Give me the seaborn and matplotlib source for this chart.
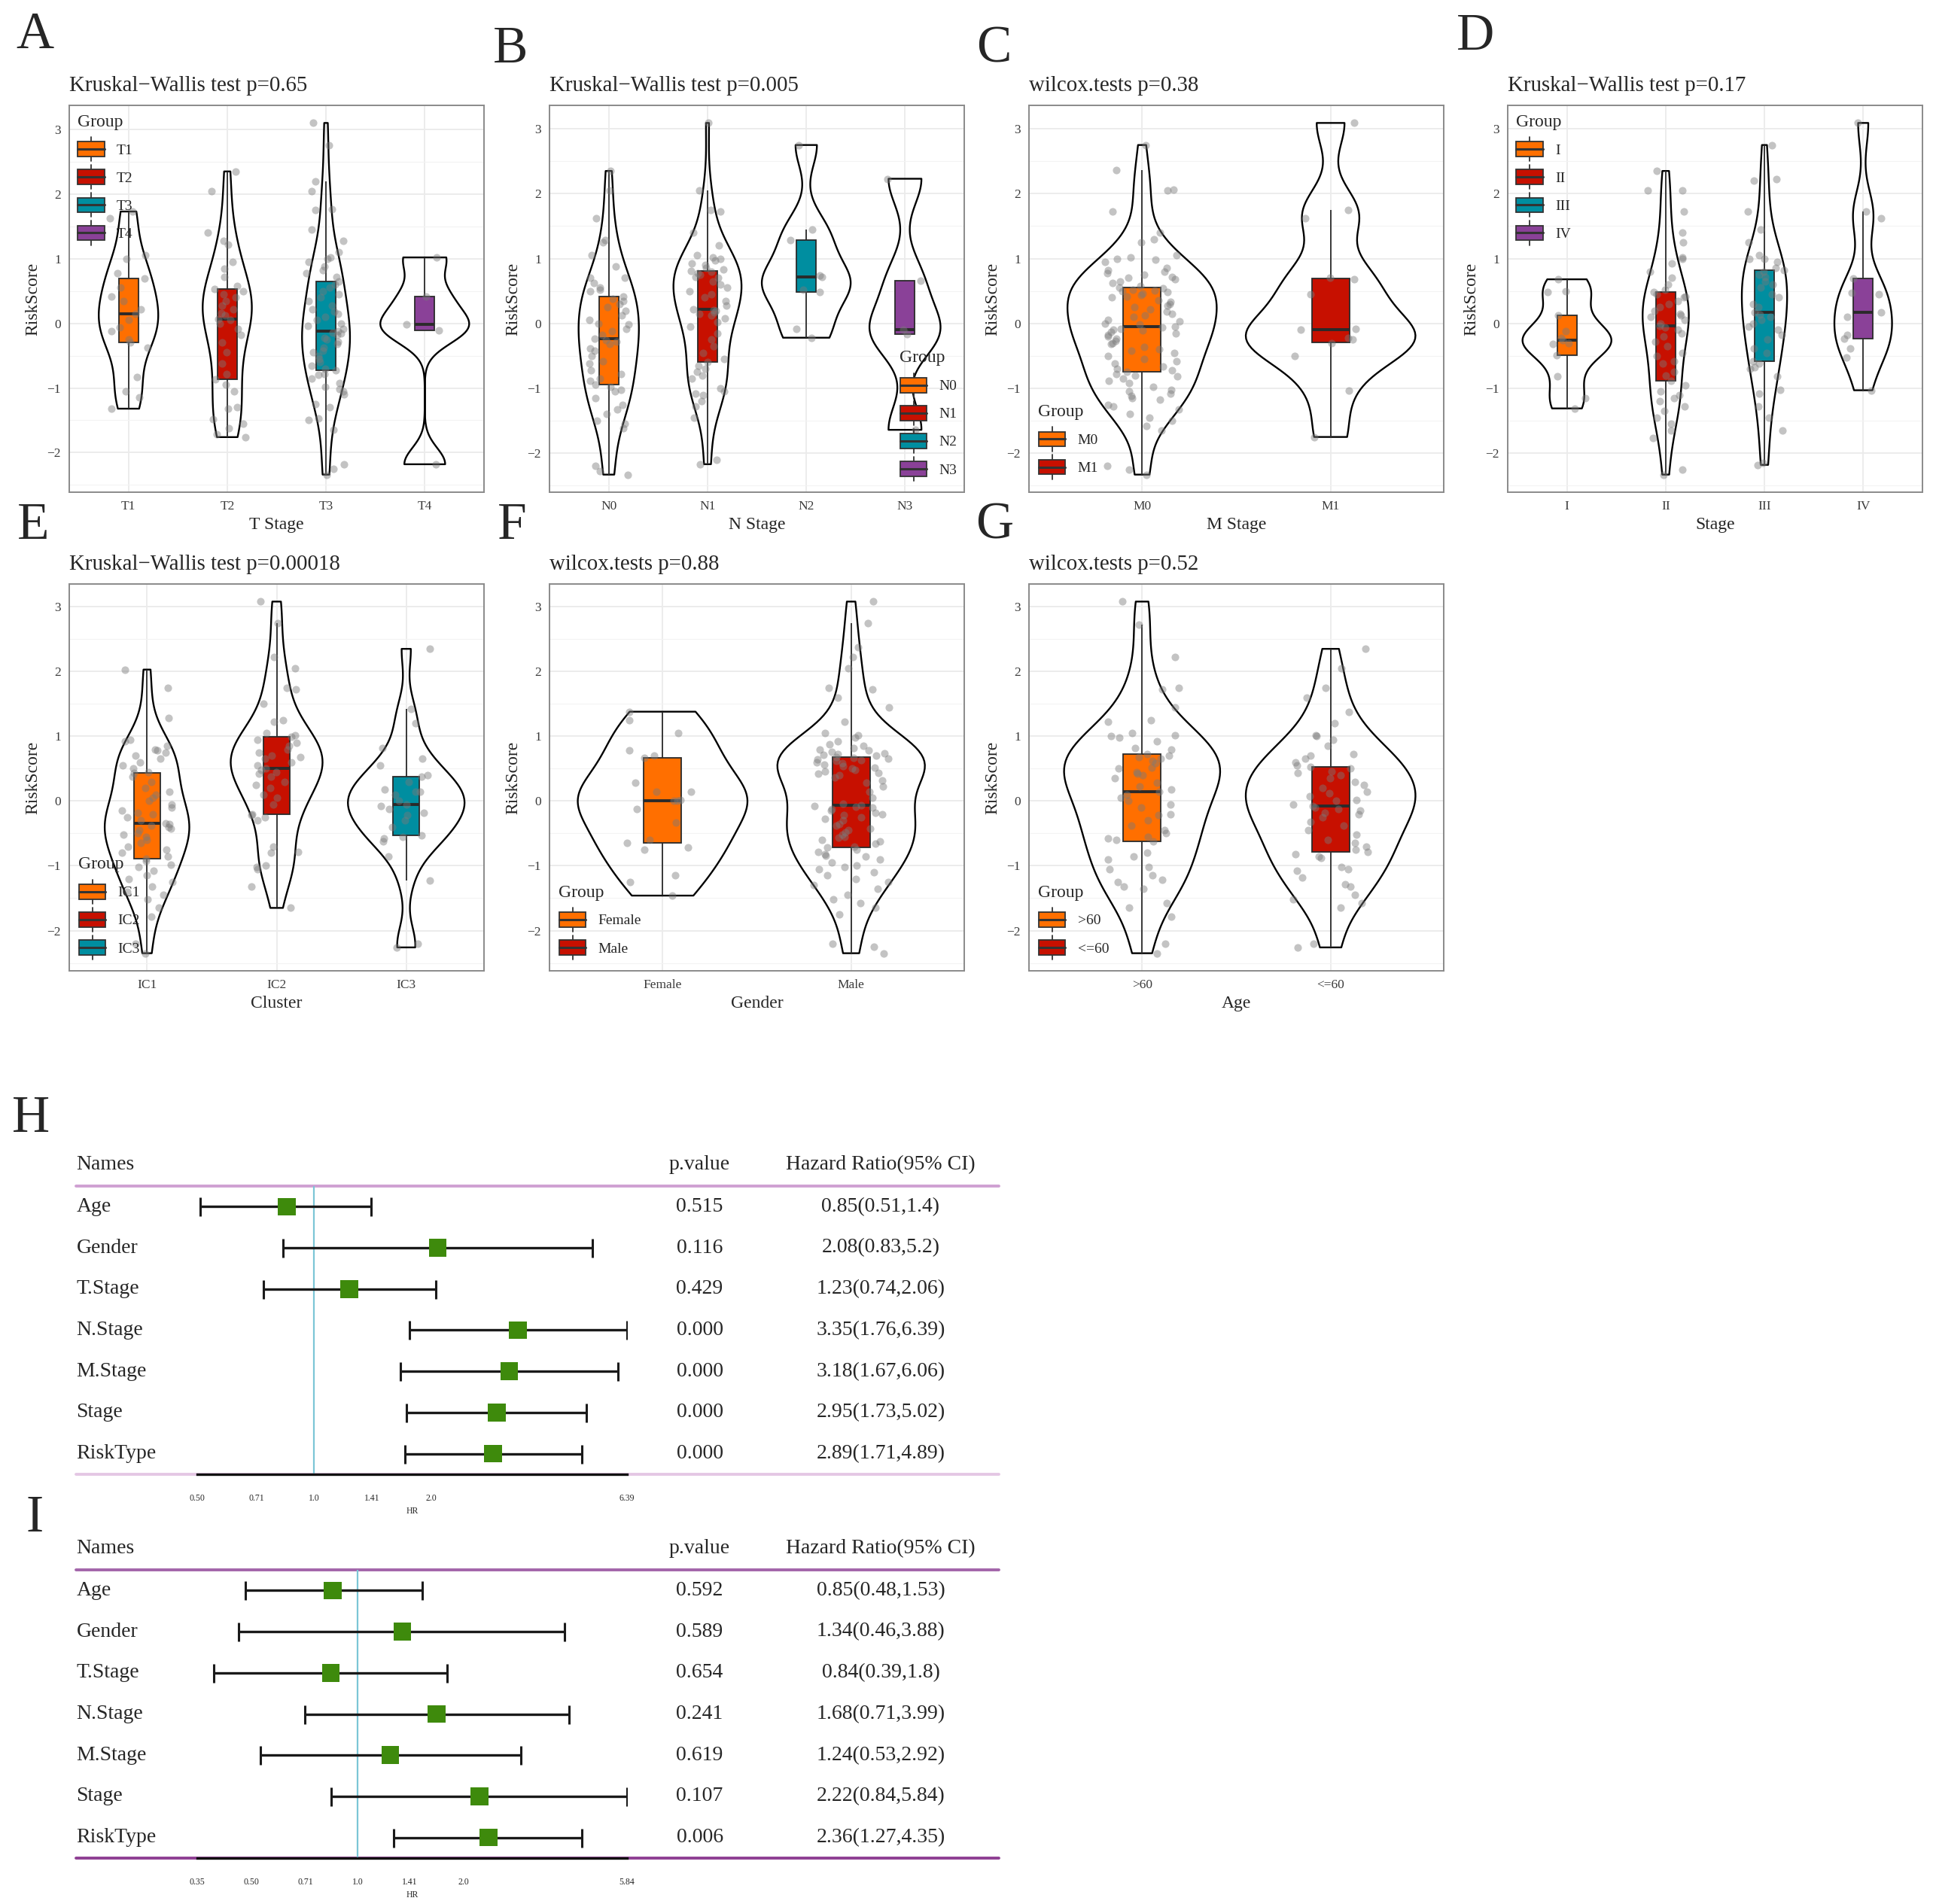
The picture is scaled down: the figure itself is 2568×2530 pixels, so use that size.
import numpy as np
import pandas as pd
import matplotlib
matplotlib.use("Agg")
import matplotlib.pyplot as plt
import seaborn as sns
from matplotlib.patches import Patch, Rectangle
from matplotlib.lines import Line2D
from matplotlib.legend_handler import HandlerBase
import matplotlib.transforms as mtransforms
from matplotlib.ticker import NullLocator, MultipleLocator

# ------------------------------------------------------------------ data
t_cats = ["T1", "T2", "T3", "T4"]
t1 = [-1.32, -1.15, -1.05, -0.83, -0.38, -0.29, -0.25, -0.12, -0.06, 0.05, 0.15, 0.22, 0.35, 0.42,
      0.55, 0.70, 0.78, 1.00, 1.05, 1.62, 1.73]
t2 = [-1.76, -1.72, -1.62, -1.55, -1.48, -1.32, -1.30, -1.05, -0.95, -0.86, -0.78, -0.62, -0.45,
      -0.30, -0.18, -0.08, 0.0, 0.05, 0.07, 0.12, 0.16, 0.22, 0.28, 0.35, 0.40, 0.45, 0.50, 0.53,
      0.58, 0.72, 0.85, 0.95, 1.22, 1.28, 1.40, 2.05, 2.35]
t3 = [-2.34, -2.25, -2.18, -1.65, -1.50, -1.47, -1.30, -1.25, -1.10, -1.05, -1.02, -0.98, -0.92,
      -0.85, -0.80, -0.78, -0.73,
      -0.70, -0.66, -0.60, -0.55, -0.50, -0.45, -0.42, -0.38, -0.32, -0.28, -0.25, -0.22, -0.18,
      -0.16, -0.14, -0.12,
      -0.08, -0.04, 0.0, 0.05, 0.10, 0.15, 0.18, 0.22, 0.28, 0.35, 0.40, 0.45, 0.50, 0.55, 0.60, 0.65,
      0.72, 0.78, 0.82, 0.88, 0.95, 1.00, 1.02, 1.10, 1.28, 1.45, 1.75, 1.76, 2.05, 2.20, 2.75, 3.10]
t4 = [-2.18, -0.11, -0.02, 0.41, 1.02]

n_cats = ["N0", "N1", "N2", "N3"]
n0 = [-2.33, -2.28, -2.20, -1.62, -1.55, -1.50, -1.40, -1.32, -1.25, -1.15, -1.05, -1.02, -0.98, -0.94,
      -0.88, -0.85, -0.78, -0.72, -0.62, -0.58, -0.50, -0.42, -0.38, -0.32, -0.28, -0.26, -0.24,
      -0.18, -0.12, -0.08, -0.02, 0.0, 0.05, 0.12, 0.20, 0.25, 0.30, 0.35, 0.38, 0.42,
      0.50, 0.52, 0.55, 0.62, 0.70, 0.70, 0.88, 1.05, 1.25, 1.28, 1.62, 2.05, 2.35]
n1 = [-2.17, -2.10, -1.45, -1.28, -1.20, -1.10, -1.08, -1.05, -1.00, -0.85, -0.80, -0.75, -0.70, -0.65, -0.60,
      -0.55, -0.45, -0.35, -0.25, -0.15, -0.05, 0.02, 0.08, 0.12, 0.15, 0.17, 0.19, 0.21, 0.22,
      0.28, 0.35, 0.40, 0.45, 0.50, 0.55, 0.60, 0.65, 0.70, 0.72, 0.75, 0.78, 0.80, 0.81,
      0.83, 0.86, 0.90, 0.93, 0.97, 1.00, 1.02, 1.05, 1.20, 1.40, 1.72, 1.75, 2.05, 3.09]
n2 = [-0.22, -0.08, 0.49, 0.52, 0.72, 0.74, 1.28, 1.45, 2.75]
n3 = [-1.64, -0.16, -0.10, 0.66, 2.23]

m_cats = ["M0", "M1"]
m0 = [-2.33, -2.25, -2.20, -1.65, -1.58, -1.50, -1.45, -1.40, -1.32, -1.28, -1.25, -1.18, -1.15, -1.12,
      -1.08, -1.05, -1.02, -0.98, -0.92, -0.88, -0.85, -0.82, -0.80, -0.78, -0.75,
      -0.72, -0.70, -0.66, -0.62, -0.58, -0.55, -0.50, -0.45, -0.42, -0.40, -0.36, -0.32, -0.30, -0.27,
      -0.24, -0.20, -0.18, -0.15, -0.13, -0.11, -0.09, -0.08, -0.06, -0.05,
      -0.02, 0.0, 0.03, 0.06, 0.10, 0.12, 0.15, 0.18, 0.22, 0.25, 0.28, 0.30, 0.33, 0.36, 0.40, 0.42,
      0.44, 0.46, 0.48, 0.50, 0.51, 0.52, 0.54, 0.55,
      0.58, 0.62, 0.65, 0.68, 0.70, 0.72, 0.75, 0.78, 0.80, 0.82, 0.85, 0.95, 0.98, 1.00, 1.02, 1.05,
      1.25, 1.30, 1.40, 1.72, 2.05, 2.06, 2.36, 2.75]
m1 = [-1.75, -1.03, -0.50, -0.30, -0.25, -0.22, -0.10, -0.08, 0.45, 0.68, 0.70, 1.62, 1.75, 3.09]

s_cats = ["I", "II", "III", "IV"]
s1 = [-1.31, -1.15, -0.82, -0.49, -0.32, -0.30, -0.26, -0.22, -0.12, 0.13, 0.48, 0.50, 0.68]
s2 = [-2.33, -2.25, -1.77, -1.65, -1.55, -1.45, -1.35, -1.28, -1.20, -1.15, -1.10, -1.05, -0.95, -0.89,
      -0.80, -0.75, -0.62, -0.58, -0.50, -0.45, -0.35, -0.28, -0.20, -0.15, -0.10, -0.06, -0.04,
      0.0, 0.05, 0.10, 0.12, 0.15, 0.20, 0.25, 0.30, 0.35, 0.40, 0.42, 0.45, 0.49,
      0.52, 0.60, 0.70, 0.80, 0.92, 1.00, 1.02, 1.25, 1.40, 1.72, 2.05, 2.05, 2.35]
s3 = [-2.18, -2.15, -1.65, -1.45, -1.28, -1.08, -1.02, -0.82, -0.70, -0.68, -0.62, -0.58,
      -0.45, -0.38, -0.25, -0.18, -0.10, -0.05, 0.0, 0.05, 0.10, 0.14, 0.17,
      0.25, 0.30, 0.40, 0.45, 0.55, 0.60, 0.65, 0.72, 0.75, 0.80, 0.82,
      0.85, 0.95, 1.00, 1.00, 1.05, 1.25, 1.45, 1.72, 2.20, 2.22, 2.75]
s4 = [-1.03, -0.52, -0.38, -0.24, -0.18, 0.10, 0.17, 0.45, 0.47, 0.69, 1.62, 1.73, 3.09]

c_cats = ["IC1", "IC2", "IC3"]
ic1 = [-2.35, -2.20, -1.78, -1.65, -1.52, -1.45, -1.40, -1.32, -1.25, -1.20, -1.15, -1.08, -1.02, -0.98,
       -0.92, -0.89,
       -0.85, -0.80, -0.75, -0.70, -0.65, -0.60, -0.55, -0.52, -0.50, -0.45, -0.42, -0.40, -0.38, -0.36, -0.34,
       -0.30, -0.25, -0.20, -0.18, -0.15, -0.10, -0.05, 0.0, 0.05, 0.10, 0.15, 0.20, 0.30, 0.38, 0.43,
       0.45, 0.50, 0.55, 0.60, 0.65, 0.70, 0.75, 0.78, 0.80, 0.85, 0.92, 0.95, 1.28, 1.75, 2.03]
ic2 = [-1.65, -1.32, -1.05, -1.02, -1.00, -0.80, -0.78, -0.70, -0.30, -0.25, -0.22, -0.20,
       -0.05, 0.05, 0.10, 0.20, 0.25, 0.30, 0.38, 0.42, 0.45, 0.48, 0.50,
       0.55, 0.60, 0.65, 0.68, 0.70, 0.75, 0.80, 0.85, 0.90, 0.95, 0.99,
       1.02, 1.05, 1.22, 1.25, 1.50, 1.72, 1.75, 2.05, 2.22, 2.75, 3.08]
ic3 = [-2.26, -2.20, -1.23, -0.85, -0.62, -0.58, -0.55, -0.53,
       -0.40, -0.30, -0.22, -0.18, -0.12, -0.08, -0.05,
       0.0, 0.10, 0.15, 0.15, 0.18, 0.30, 0.38,
       0.40, 0.55, 0.65, 0.82, 1.20, 1.42, 2.35]

g_cats = ["Female", "Male"]
female = [-1.46, -1.25, -1.15, -0.75, -0.72, -0.65, -0.60, -0.33, -0.12, 0.0, 0.01, 0.02, 0.15, 0.15,
          0.28, 0.67, 0.70, 0.78, 1.05, 1.25, 1.38]
male = [-2.35, -2.25, -2.20, -1.75, -1.65, -1.58, -1.52, -1.45, -1.35, -1.30, -1.25, -1.20, -1.15, -1.10,
        -1.05, -1.02, -1.00, -0.95, -0.90, -0.86, -0.84, -0.82, -0.78, -0.75, -0.72,
        -0.70, -0.66, -0.62, -0.60, -0.57, -0.55, -0.52, -0.48, -0.45, -0.42, -0.38, -0.35, -0.30, -0.27,
        -0.25, -0.22, -0.20, -0.18, -0.15, -0.12, -0.10, -0.09, -0.08, -0.07,
        -0.04, 0.05, 0.15, 0.22, 0.28, 0.32, 0.36, 0.40, 0.42, 0.44, 0.46, 0.48, 0.50, 0.52, 0.54, 0.56,
        0.58, 0.60, 0.62, 0.63, 0.64, 0.66, 0.67, 0.68,
        0.70, 0.71, 0.72, 0.74, 0.76, 0.78, 0.80, 0.82, 0.85, 0.88, 0.92, 0.98, 1.02, 1.05, 1.22, 1.45,
        1.60, 1.72, 1.75, 2.05, 2.22, 2.38, 2.75, 3.08]

a_cats = [">60", "<=60"]
age_gt60 = [-2.35, -2.20, -1.78, -1.65, -1.58, -1.35, -1.32, -1.25, -1.22, -1.15, -1.05, -1.02, -0.90,
            -0.85, -0.80, -0.62,
            -0.60, -0.58, -0.55, -0.50, -0.45, -0.38, -0.30, -0.22, -0.20, -0.10, -0.05, 0.0, 0.05, 0.10, 0.14,
            0.18, 0.22, 0.28, 0.35, 0.40, 0.42, 0.45, 0.50, 0.52, 0.58, 0.62, 0.66, 0.68, 0.70, 0.73,
            0.80, 0.82, 0.92, 0.98, 1.00, 1.02, 1.05, 1.22, 1.25, 1.45, 1.72, 1.75, 2.22, 2.72, 3.08]
age_le60 = [-2.26, -2.20, -1.65, -1.58, -1.52, -1.45, -1.32, -1.28, -1.18, -1.08, -1.05, -1.02, -0.88,
            -0.85, -0.82, -0.78,
            -0.75, -0.70, -0.65, -0.60, -0.52, -0.45, -0.38, -0.32, -0.25, -0.20, -0.18, -0.15, -0.12,
            -0.10, -0.08,
            -0.05, 0.0, 0.02, 0.08, 0.12, 0.15, 0.20, 0.25, 0.30, 0.35, 0.40, 0.44, 0.46, 0.50, 0.53,
            0.55, 0.60, 0.65, 0.70, 0.72, 0.85, 0.95, 1.00, 1.02, 1.20, 1.38, 1.60, 1.75, 2.05, 2.35]

forest_names = ["Age", "Gender", "T.Stage", "N.Stage", "M.Stage", "Stage", "RiskType"]
h_pvalue = ["0.515", "0.116", "0.429", "0.000", "0.000", "0.000", "0.000"]
h_hr = [0.85, 2.08, 1.23, 3.35, 3.18, 2.95, 2.89]
h_low = [0.51, 0.83, 0.74, 1.76, 1.67, 1.73, 1.71]
h_high = [1.4, 5.2, 2.06, 6.39, 6.06, 5.02, 4.89]
h_ticks = [0.50, 0.71, 1.0, 1.41, 2.0, 6.39]
h_ticklabels = ["0.50", "0.71", "1.0", "1.41", "2.0", "6.39"]

i_pvalue = ["0.592", "0.589", "0.654", "0.241", "0.619", "0.107", "0.006"]
i_hr = [0.85, 1.34, 0.84, 1.68, 1.24, 2.22, 2.36]
i_low = [0.48, 0.46, 0.39, 0.71, 0.53, 0.84, 1.27]
i_high = [1.53, 3.88, 1.8, 3.99, 2.92, 5.84, 4.35]
i_ticks = [0.35, 0.50, 0.71, 1.0, 1.41, 2.0, 5.84]
i_ticklabels = ["0.35", "0.50", "0.71", "1.0", "1.41", "2.0", "5.84"]

# ------------------------------------------------------------------ style
sns.set_style("white")
SERIF = ["Liberation Serif", "DejaVu Serif"]
plt.rcParams["font.family"] = SERIF

PAL = ["#FF6F00", "#C71000", "#008EA0", "#8A4198"]
np.random.seed(7)

W, H = 2568, 2530
fig = plt.figure(figsize=(W / 100, H / 100), dpi=100)


def nrd0(kde):
    # R's bw.nrd0 (ggplot2 default bandwidth), expressed as a factor of the sd
    x = np.asarray(kde.dataset).ravel()
    sd = x.std(ddof=1)
    q75, q25 = np.percentile(x, [75, 25])
    lo = min(sd, (q75 - q25) / 1.34)
    if lo <= 0:
        lo = sd
    return 0.9 * lo * len(x) ** -0.2 / sd


class BoxKey(HandlerBase):
    """ggplot-style boxplot legend key."""
    def create_artists(self, legend, orig_handle, xdescent, ydescent, width, height, fontsize, trans):
        fc = orig_handle.get_facecolor()
        x0, y0 = -xdescent, -ydescent
        bw, bh = width * 0.95, height * 0.85
        bx, by = x0 + (width - bw) / 2, y0 + (height - bh) / 2
        cx = x0 + width / 2
        ec = "#333333"
        w1 = Line2D([cx, cx], [y0 - height * 0.2, by], color=ec, lw=1.3, transform=trans)
        w2 = Line2D([cx, cx], [by + bh, y0 + height * 1.2], color=ec, lw=1.3, transform=trans)
        r = Rectangle((bx, by), bw, bh, facecolor=fc, edgecolor=ec, lw=1.3, transform=trans)
        m = Line2D([bx, bx + bw], [y0 + height / 2] * 2, color=ec, lw=2.2, transform=trans)
        return [w1, w2, r, m]


def px(x0, y0, w, h):
    return [x0 / W, 1 - (y0 + h) / H, w / W, h / H]


def violin_panel(rect, cats, groups, title, xlabel, loc, anchor):
    ax = fig.add_axes(rect)
    df = pd.DataFrame({"g": np.repeat(np.array(cats), [len(v) for v in groups]),
                       "v": np.concatenate([np.asarray(v, float) for v in groups])})
    sns.violinplot(data=df, x="g", y="v", order=cats, fill=False, color="black", inner=None,
                   cut=0, width=0.9, density_norm="area", bw_method=nrd0, linewidth=1.7, ax=ax)
    sns.stripplot(data=df, x="g", y="v", order=cats, color="#7a7a7a", alpha=0.45, size=7.3,
                  jitter=0.2, linewidth=0, ax=ax)
    sns.boxplot(data=df, x="g", y="v", order=cats, hue="g", hue_order=cats,
                palette=PAL[:len(cats)], width=0.2, showfliers=False, showcaps=False,
                linecolor="#2a2a2a", linewidth=1.3, saturation=1, legend=False,
                medianprops=dict(linewidth=2.8, color="#2a2a2a"), ax=ax)
    lo, hi = df["v"].min(), df["v"].max()
    pad = 0.05 * (hi - lo)
    ax.set_ylim(lo - pad, hi + pad)
    ax.set_xlim(-0.6, len(cats) - 0.4)
    ax.yaxis.set_major_locator(MultipleLocator(1))
    ax.yaxis.set_minor_locator(MultipleLocator(0.5))
    ax.set_axisbelow(True)
    ax.grid(which="major", color="#EBEBEB", lw=1.3)
    ax.grid(which="minor", axis="y", color="#F3F3F3", lw=0.8)
    for s in ax.spines.values():
        s.set_visible(True)
        s.set_color("#8a8a8a")
        s.set_linewidth(1.4)
    ax.tick_params(which="major", length=5, width=1.1, color="#555555", labelsize=12.5,
                   labelcolor="#3a3a3a", pad=3)
    ax.tick_params(which="minor", length=0)
    ax.set_ylabel("RiskScore", fontsize=17, labelpad=6)
    ax.set_xlabel(xlabel, fontsize=17, labelpad=4)
    ax.set_title(title, loc="left", fontsize=20.8, pad=14)
    handles = [Patch(facecolor=PAL[i], label=c) for i, c in enumerate(cats)]
    ax.legend(handles=handles, title="Group", loc=loc, bbox_to_anchor=anchor,
              handler_map={Patch: BoxKey()}, frameon=False, fontsize=14,
              title_fontsize=17, handlelength=1.9, handleheight=1.45,
              labelspacing=0.72, handletextpad=0.8, borderaxespad=0, borderpad=0.2,
              alignment="left")
    return ax


AX_W, AX_H = 551, 514
row1_y, row2_y = 140, 776
lefts = [92, 730, 1367, 2003]

violin_panel(px(lefts[0], row1_y, AX_W, AX_H), t_cats, [t1, t2, t3, t4],
             "Kruskal\u2212Wallis test p=0.65", "T Stage", "upper left", (0.012, 0.985))
violin_panel(px(lefts[1], row1_y, AX_W, AX_H), n_cats, [n0, n1, n2, n3],
             "Kruskal\u2212Wallis test p=0.005", "N Stage", "lower right", (0.99, 0.03))
violin_panel(px(lefts[2], row1_y, AX_W, AX_H), m_cats, [m0, m1],
             "wilcox.tests p=0.38", "M Stage", "lower left", (0.015, 0.035))
violin_panel(px(lefts[3], row1_y, AX_W, AX_H), s_cats, [s1, s2, s3, s4],
             "Kruskal\u2212Wallis test p=0.17", "Stage", "upper left", (0.012, 0.985))
violin_panel(px(lefts[0], row2_y, AX_W, AX_H), c_cats, [ic1, ic2, ic3],
             "Kruskal\u2212Wallis test p=0.00018", "Cluster", "lower left", (0.015, 0.03))
violin_panel(px(lefts[1], row2_y, AX_W, AX_H), g_cats, [female, male],
             "wilcox.tests p=0.88", "Gender", "lower left", (0.015, 0.03))
violin_panel(px(lefts[2], row2_y, AX_W, AX_H), a_cats, [age_gt60, age_le60],
             "wilcox.tests p=0.52", "Age", "lower left", (0.015, 0.03))


def forest(rect, pvals, hr, low, high, ticks, ticklabels, top_col, bot_col):
    ax = fig.add_axes(rect)
    ax.patch.set_visible(False)
    hr, low, high = np.asarray(hr), np.asarray(low), np.asarray(high)
    rows = np.arange(len(forest_names))
    ax.set_xscale("log")
    ax.axvline(1.0, color="#7CC6D6", lw=1.6, zorder=1)
    ax.errorbar(hr, rows, xerr=[hr - low, high - hr], fmt="none", ecolor="#1a1a1a",
                elinewidth=2.4, capsize=9, capthick=2.2, zorder=2)
    sns.scatterplot(x=hr, y=rows, marker="s", s=290, color="#3E8A0C", edgecolor="none",
                    ax=ax, zorder=3)
    ax.set_xlim(ticks[0], ticks[-1])
    ax.set_ylim(len(rows) - 0.5, -0.5)
    ax.set_xticks(ticks)
    ax.set_xticklabels(ticklabels)
    ax.xaxis.set_minor_locator(NullLocator())
    ax.set_yticks([])
    for k in ["top", "left", "right"]:
        ax.spines[k].set_visible(False)
    ax.spines["bottom"].set_color("#111111")
    ax.spines["bottom"].set_linewidth(2.4)
    ax.spines["bottom"].set_zorder(5)
    ax.tick_params(axis="x", length=9, width=2, color="#111111", labelsize=8.5, pad=10)
    ax.set_xlabel("HR", fontsize=8.5, labelpad=3)
    tr = mtransforms.blended_transform_factory(fig.transFigure, ax.transData)
    x_name, x_p, x_hr = 0.0395, 0.362, 0.4556
    ax.text(x_name, -1.02, "Names", transform=tr, ha="left", va="center", fontsize=20)
    ax.text(x_p, -1.02, "p.value", transform=tr, ha="center", va="center", fontsize=20)
    ax.text(x_hr, -1.02, "Hazard Ratio(95% CI)", transform=tr, ha="center", va="center", fontsize=20)
    for i, nm in enumerate(forest_names):
        ax.text(x_name, i, nm, transform=tr, ha="left", va="center", fontsize=20)
        ax.text(x_p, i, pvals[i], transform=tr, ha="center", va="center", fontsize=20)
        ax.text(x_hr, i, f"{hr[i]:g}({low[i]:g},{high[i]:g})", transform=tr,
                ha="center", va="center", fontsize=20)
    fig.add_artist(Line2D([0.0393, 0.5167], [-0.5, -0.5], transform=tr, color=top_col,
                          lw=2.8, zorder=-1))
    fig.add_artist(Line2D([0.0393, 0.5167], [len(rows) - 0.5] * 2, transform=tr, color=bot_col,
                          lw=2.8, zorder=-1))
    return ax


forest(px(262, 1576, 571, 383), h_pvalue, h_hr, h_low, h_high, h_ticks, h_ticklabels,
       "#CFA0D2", "#E4C7E4")
forest(px(262, 2086, 571, 383), i_pvalue, i_hr, i_low, i_high, i_ticks, i_ticklabels,
       "#A365AA", "#8E3F93")

letters = [("A", 46, 47), ("B", 678, 66), ("C", 1320, 66), ("D", 1960, 49),
           ("E", 44, 699), ("F", 680, 699), ("G", 1321, 699), ("H", 41, 1487), ("I", 46, 2018)]
for t, x, y in letters:
    fig.text(x / W, 1 - y / H, t, fontsize=50, ha="center", va="center")

fig.savefig("out.png", dpi=100, facecolor="white")
